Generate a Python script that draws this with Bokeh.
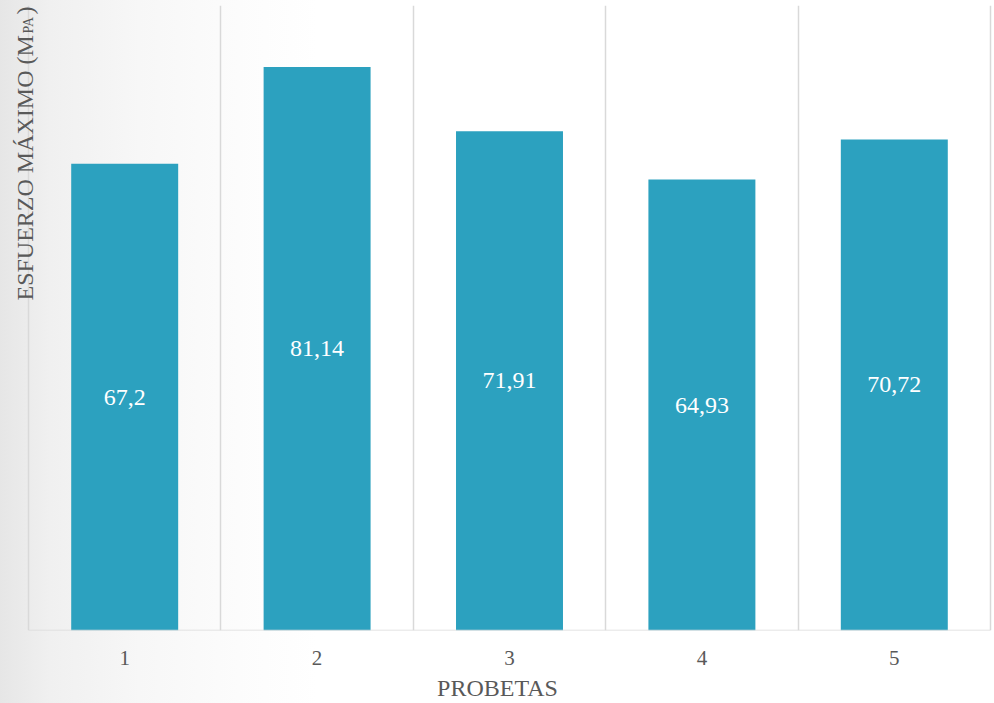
import math
from bokeh.plotting import figure
from bokeh.models import ColumnDataSource, FixedTicker, Label, Range1d
from bokeh.core.properties import value
from bokeh.embed import file_html
from bokeh.resources import INLINE

# ---- data ----
probetas = [1, 2, 3, 4, 5]
esfuerzo = [67.2, 81.14, 71.91, 64.93, 70.72]
etiquetas = ["67,2", "81,14", "71,91", "64,93", "70,72"]
tick_labels = {1: "1", 2: "2", 3: "3", 4: "4", 5: "5"}

FONT = "Liberation Serif"
GRAY = "#595959"
BAR = "#2ca1bf"

src = ColumnDataSource(dict(
    x=probetas,
    top=esfuerzo,
    mid=[v / 2 for v in esfuerzo],
    lab=etiquetas,
))

# frame spans the whole width so that the rotated y title is not clipped;
# category area (0.5 .. 5.5) starts 28 px from the left edge
cat_w = 962 / 5.0
x_left = 0.5 - 28 / cat_w
x_right = 5.5 + 4 / cat_w

p = figure(width=994, height=703, output_backend="svg", toolbar_location=None,
           x_range=Range1d(x_left, x_right), y_range=Range1d(0, 90),
           min_border_left=0, min_border_right=0, min_border_top=5,
           min_border_bottom=10)

p.styles = {"background": "linear-gradient(to right, #e6e6e6 0%, #f0f0f0 5%, #f7f7f7 14%, #fcfcfc 24%, #ffffff 32%)"}
p.background_fill_color = None
p.border_fill_color = None
p.outline_line_color = None

p.vbar(x="x", top="top", width=0.556, bottom=0, source=src,
       fill_color=BAR, line_color=None)

p.text(x="x", y="mid", text="lab", source=src, text_color="white",
       text_font=value(FONT), text_font_size="24px",
       text_align="center", text_baseline="middle")

# axes
p.yaxis.visible = False
p.ygrid.visible = False

p.xgrid.ticker = FixedTicker(ticks=[x - 0.5 for x in probetas] + [probetas[-1] + 0.5])
p.xgrid.grid_line_color = "#d9d9d9"
p.xgrid.grid_line_width = 1.5

# category axis base line
p.segment(x0=[probetas[0] - 0.5], x1=[probetas[-1] + 0.5], y0=[0], y1=[0],
          line_color="#d9d9d9", line_width=1.5)

xa = p.xaxis[0]
xa.ticker = FixedTicker(ticks=probetas)
xa.major_label_overrides = tick_labels
xa.axis_line_color = None
xa.major_tick_line_color = None
xa.minor_tick_line_color = None
xa.major_label_text_font = FONT
xa.major_label_text_font_size = "21px"
xa.major_label_text_color = GRAY
xa.major_label_standoff = 14
xa.axis_label = "PROBETAS"
xa.axis_label_text_font = FONT
xa.axis_label_text_font_size = "24px"
xa.axis_label_text_font_style = "normal"
xa.axis_label_text_color = GRAY
xa.axis_label_standoff = 7

# y axis title with subscript (screen units relative to frame bottom-left)
common = dict(x_units="screen", y_units="screen", angle=math.pi / 2,
              text_font=FONT, text_color=GRAY, text_baseline="alphabetic",
              text_align="left")
p.add_layout(Label(x=24, y=630 - 300, text="ESFUERZO MÁXIMO (M",
                   text_font_size="24px", **common))
p.add_layout(Label(x=28, y=630 - 33, text="PA",
                   text_font_size="14px", **common))
p.add_layout(Label(x=24, y=630 - 14, text=")",
                   text_font_size="24px", **common))

open("out.html", "w").write(file_html(p, INLINE))
